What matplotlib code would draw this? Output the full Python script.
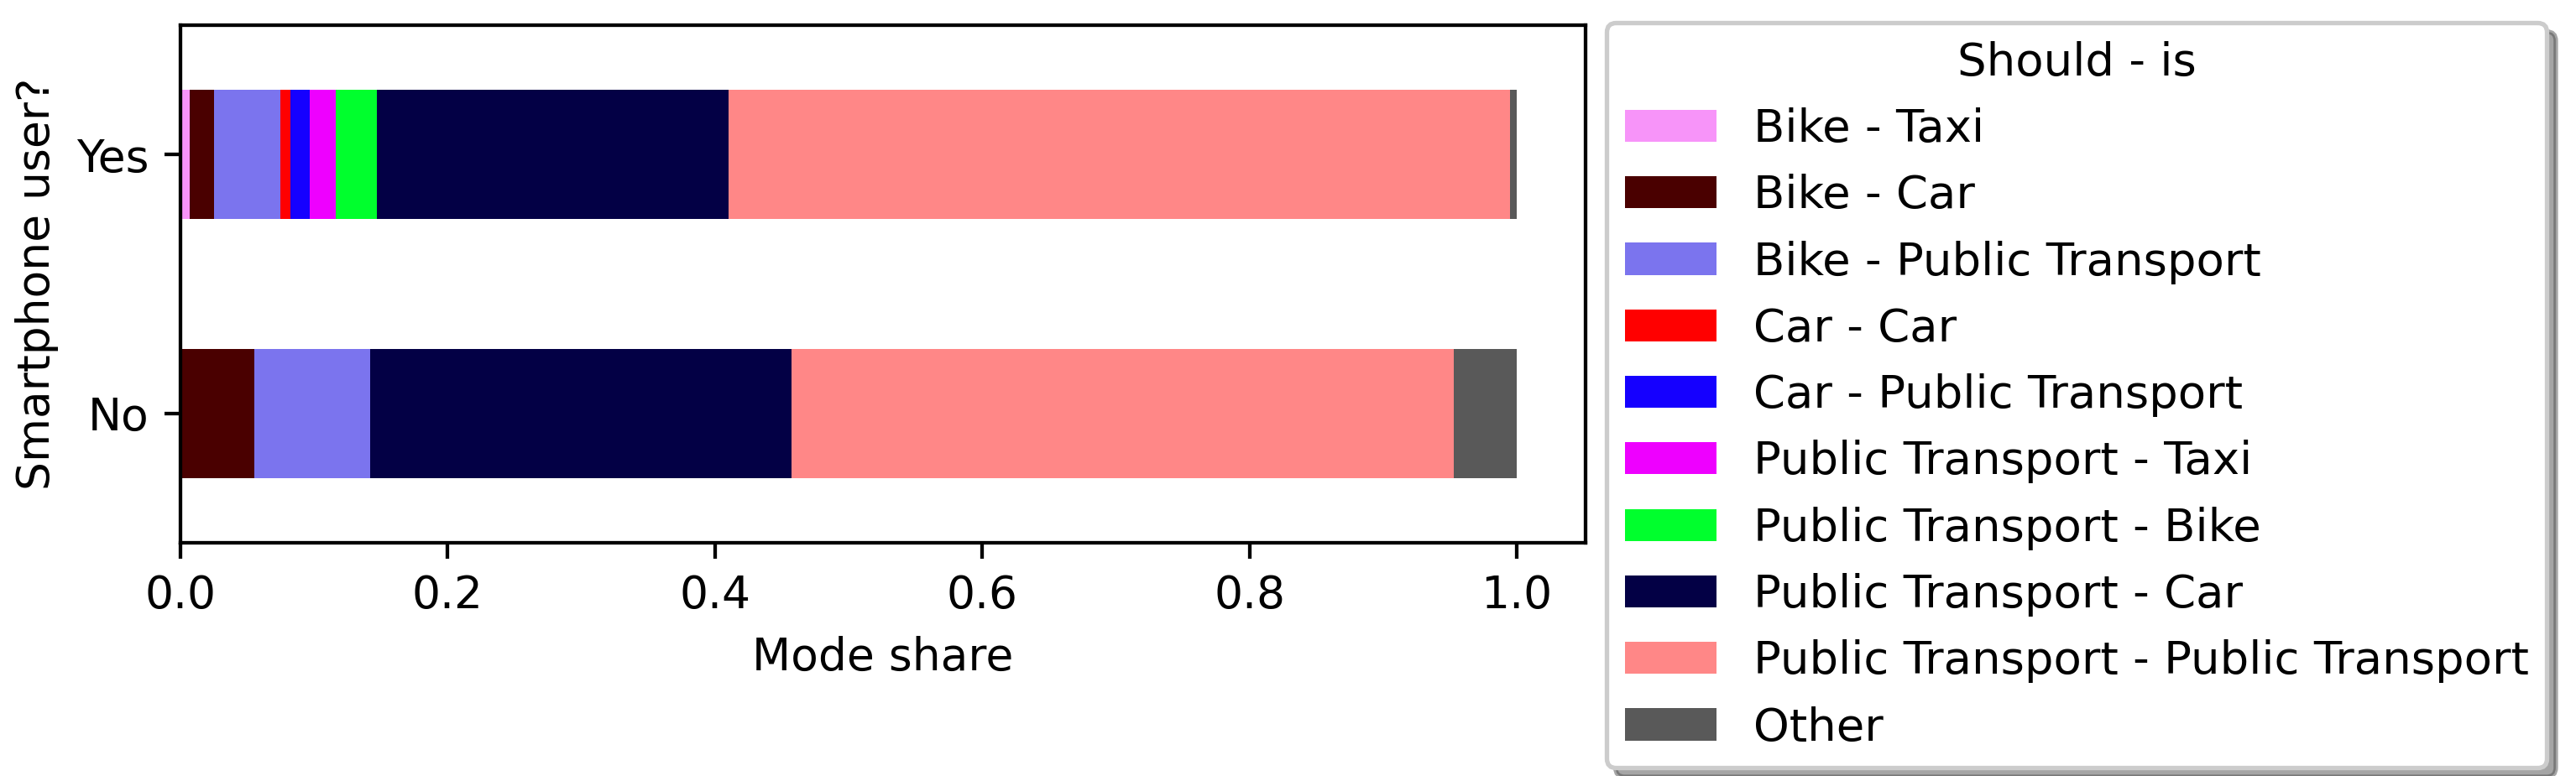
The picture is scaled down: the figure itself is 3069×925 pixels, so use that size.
import matplotlib
matplotlib.use("Agg")
import matplotlib.pyplot as plt
import numpy as np

DPI = 385

groups = ['No', 'Yes']

labels = ['Bike - Taxi', 'Bike - Car', 'Bike - Public Transport', 'Car - Car',
          'Car - Public Transport', 'Public Transport - Taxi',
          'Public Transport - Bike', 'Public Transport - Car',
          'Public Transport - Public Transport', 'Other']

colors = ['#f794f9', '#4a0000', '#7b74ee', '#ff0000', '#1500ff',
          '#ee00ff', '#00ff2d', '#030045', '#ff8787', '#595959']

# share per category, [No, Yes]
shares = [
    [0.000, 0.007],
    [0.055, 0.018],
    [0.087, 0.050],
    [0.000, 0.007],
    [0.000, 0.015],
    [0.000, 0.019],
    [0.000, 0.031],
    [0.315, 0.263],
    [0.496, 0.585],
    [0.047, 0.005],
]

fig = plt.figure(figsize=(3069 / DPI, 925 / DPI), dpi=DPI)
ax = fig.add_axes([215 / 3069, 1 - 647 / 925, (1889 - 215) / 3069, (647 - 30) / 925])

y = np.arange(len(groups))
left = np.zeros(len(groups))
for lab, col, val in zip(labels, colors, shares):
    val = np.array(val)
    ax.barh(y, val, height=0.5, left=left, color=col, label=lab)
    left += val

ax.set_yticks(y)
ax.set_yticklabels(groups)
ax.set_xlim(0, 1.0515)
ax.set_ylim(-0.5, 1.5)
ax.set_xlabel('Mode share')
ax.set_ylabel('Smartphone user?')

handles, labs = ax.get_legend_handles_labels()
fig.legend(handles, labs, title='Should - is', loc='upper left',
           bbox_to_anchor=(1914 / 3069, 1 - 27 / 925), shadow=True,
           borderaxespad=0, fontsize=10.2, title_fontsize=10.2)

fig.savefig('out.png', dpi=DPI)
